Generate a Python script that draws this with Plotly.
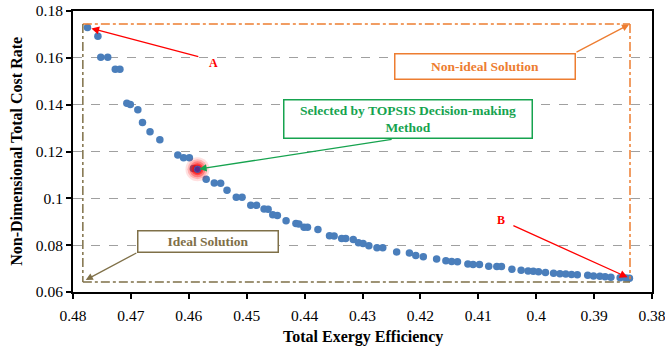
import plotly.graph_objects as go

# Pareto front data (Total Exergy Efficiency, Non-dimensional total cost rate)
exergy_eff = [0.4775, 0.4757, 0.4752, 0.4740, 0.4727, 0.4719, 0.4707, 0.4701, 0.4688, 0.4680,
              0.4667, 0.4650, 0.4619, 0.4609, 0.4599, 0.4592, 0.4570, 0.4556, 0.4545, 0.4534,
              0.4518, 0.4508, 0.4493, 0.4483, 0.4470, 0.4463, 0.4455, 0.4447, 0.4432, 0.4415,
              0.4410, 0.4401, 0.4395, 0.4377, 0.4357, 0.4349, 0.4336, 0.4329, 0.4316, 0.4307,
              0.4299, 0.4289, 0.4275, 0.4265, 0.4241, 0.4219, 0.4208, 0.4195, 0.4172, 0.4156,
              0.4146, 0.4136, 0.4118, 0.4109, 0.4098, 0.4082, 0.4068, 0.4060, 0.4042, 0.4026,
              0.4014, 0.4005, 0.3996, 0.3984, 0.3970, 0.3959, 0.3949, 0.3939, 0.3929, 0.3911,
              0.3901, 0.3890, 0.3881, 0.3871, 0.3855, 0.3845, 0.3839]
cost_rate = [0.1730, 0.1692, 0.1603, 0.1603, 0.1551, 0.1551, 0.1406, 0.1401, 0.1378, 0.1324,
             0.1284, 0.1250, 0.1185, 0.1173, 0.1173, 0.1127, 0.1082, 0.1065, 0.1064, 0.1034,
             0.1005, 0.1005, 0.0970, 0.0970, 0.0954, 0.0953, 0.0930, 0.0927, 0.0904, 0.0893,
             0.0890, 0.0877, 0.0876, 0.0867, 0.0840, 0.0839, 0.0829, 0.0829, 0.0824, 0.0810,
             0.0807, 0.0797, 0.0789, 0.0789, 0.0771, 0.0767, 0.0756, 0.0751, 0.0741, 0.0733,
             0.0730, 0.0729, 0.0720, 0.0717, 0.0717, 0.0710, 0.0709, 0.0709, 0.0697, 0.0693,
             0.0690, 0.0689, 0.0686, 0.0683, 0.0680, 0.0678, 0.0677, 0.0675, 0.0674, 0.0672,
             0.0668, 0.0667, 0.0665, 0.0663, 0.0661, 0.0660, 0.0659]

# TOPSIS selected point
topsis_x = [0.4585]
topsis_y = [0.1124]

# Ideal / non-ideal solution box corners
ideal_x, ideal_y = 0.4783, 0.0643
nonideal_x, nonideal_y = 0.3838, 0.1744

x_ticks = [0.48, 0.47, 0.46, 0.45, 0.44, 0.43, 0.42, 0.41, 0.40, 0.39, 0.38]
x_tick_labels = ["0.48", "0.47", "0.46", "0.45", "0.44", "0.43", "0.42", "0.41", "0.4", "0.39", "0.38"]
y_ticks = [0.06, 0.08, 0.10, 0.12, 0.14, 0.16, 0.18]
y_tick_labels = ["0.06", "0.08", "0.1", "0.12", "0.14", "0.16", "0.18"]

FONT = "Liberation Serif, Times New Roman, serif"
BLUE = "#4a7ebb"
ORANGE = "#ed7d31"
OLIVE = "#7f7048"
GREEN = "#16a34f"
RED = "#ff0000"

fig = go.Figure()

# Ideal/non-ideal dash-dot rectangle
fig.add_shape(type="line", x0=ideal_x, y0=nonideal_y, x1=nonideal_x, y1=nonideal_y,
              line=dict(color=ORANGE, width=1.5, dash="dashdot"))
fig.add_shape(type="line", x0=nonideal_x, y0=nonideal_y, x1=nonideal_x, y1=cost_rate[-1] - 0.0005,
              line=dict(color=ORANGE, width=1.5, dash="dashdot"))
fig.add_shape(type="line", x0=ideal_x, y0=nonideal_y, x1=ideal_x, y1=ideal_y,
              line=dict(color=OLIVE, width=1.5, dash="dashdot"))
fig.add_shape(type="line", x0=ideal_x, y0=ideal_y, x1=nonideal_x, y1=ideal_y,
              line=dict(color=OLIVE, width=1.5, dash="dashdot"))

fig.add_trace(go.Scatter(x=exergy_eff, y=cost_rate, mode="markers",
                         marker=dict(size=7.5, color=BLUE, line=dict(width=0)),
                         showlegend=False, hoverinfo="x+y"))

# soft red glow around selected point (stacked translucent discs)
for s, a in [(24, 0.12), (20, 0.2), (16, 0.3), (12, 0.45), (9, 0.6)]:
    fig.add_trace(go.Scatter(x=topsis_x, y=topsis_y, mode="markers",
                             marker=dict(size=s, color=f"rgba(255,0,0,{a})", line=dict(width=0)),
                             showlegend=False, hoverinfo="skip"))
fig.add_trace(go.Scatter(x=topsis_x, y=topsis_y, mode="markers",
                         marker=dict(size=6.5, color="#5a2a8c", line=dict(width=1, color="#4a5aa8")),
                         showlegend=False, hoverinfo="x+y"))

ann = []
# A
ann.append(dict(x=exergy_eff[0], y=cost_rate[0], ax=0.4581, ay=0.1604, axref="x", ayref="y",
                xref="x", yref="y", text="", showarrow=True, arrowhead=2, arrowsize=1.2,
                arrowwidth=1.3, arrowcolor=RED, standoff=4))
ann.append(dict(x=0.4558, y=0.1578, xref="x", yref="y", text="<b>A</b>", showarrow=False,
                font=dict(family=FONT, size=12, color=RED)))
# B
ann.append(dict(x=exergy_eff[-1], y=cost_rate[-1], ax=0.4042, ay=0.0886, axref="x", ayref="y",
                xref="x", yref="y", text="", showarrow=True, arrowhead=2, arrowsize=1.2,
                arrowwidth=1.3, arrowcolor=RED, standoff=2))
ann.append(dict(x=0.4061, y=0.0907, xref="x", yref="y", text="<b>B</b>", showarrow=False,
                font=dict(family=FONT, size=12, color=RED)))
# Non-ideal
ann.append(dict(x=nonideal_x, y=nonideal_y, ax=0.3933, ay=0.1621, axref="x", ayref="y",
                xref="x", yref="y", text="", showarrow=True, arrowhead=2, arrowsize=1.1,
                arrowwidth=1.3, arrowcolor=ORANGE, standoff=1))
ann.append(dict(x=0.4089, y=0.1565, xref="x", yref="y", text="<b>Non-ideal Solution</b>",
                showarrow=False, font=dict(family=FONT, size=13.5, color=ORANGE),
                bordercolor=ORANGE, borderwidth=1.5, bgcolor="white", width=175, height=20,
                borderpad=2))
# Ideal
ann.append(dict(x=0.4778, y=0.0651, ax=0.4688, ay=0.0770, axref="x", ayref="y",
                xref="x", yref="y", text="", showarrow=True, arrowhead=2, arrowsize=1.1,
                arrowwidth=1.3, arrowcolor=OLIVE, standoff=0))
ann.append(dict(x=0.4566, y=0.0817, xref="x", yref="y", text="<b>Ideal Solution</b>",
                showarrow=False, font=dict(family=FONT, size=13.5, color=OLIVE),
                bordercolor=OLIVE, borderwidth=1.5, bgcolor="white", width=135, height=16,
                borderpad=2))
# TOPSIS
ann.append(dict(x=topsis_x[0], y=topsis_y[0], ax=0.4247, ay=0.1253, axref="x", ayref="y",
                xref="x", yref="y", text="", showarrow=True, arrowhead=2, arrowsize=1.1,
                arrowwidth=1.3, arrowcolor=GREEN, standoff=2))
ann.append(dict(x=0.4221, y=0.1337, xref="x", yref="y",
                text="<b>Selected by TOPSIS Decision-making<br>Method</b>",
                showarrow=False, font=dict(family=FONT, size=13.5, color=GREEN),
                bordercolor=GREEN, borderwidth=1.5, bgcolor="white", width=243, height=33,
                borderpad=2))
# Axis titles
ann.append(dict(x=0.5, y=-0.16, xref="paper", yref="paper", xanchor="center", yanchor="middle",
                text="<b>Total Exergy Efficiency</b>",
                showarrow=False, font=dict(family=FONT, size=16, color="black")))
ann.append(dict(x=-0.098, y=0.5, xref="paper", yref="paper", xanchor="center", yanchor="middle",
                textangle=-90, text="<b>Non-Dimensional Total Cost Rate</b>",
                showarrow=False, font=dict(family=FONT, size=16, color="black")))

fig.update_layout(
    width=665, height=350,
    margin=dict(l=73, r=13, t=11, b=58),
    plot_bgcolor="white", paper_bgcolor="white",
    font=dict(family=FONT, size=15.5, color="black"),
    annotations=ann,
    showlegend=False,
)
fig.update_xaxes(range=[0.48, 0.38], tickvals=x_ticks, ticktext=x_tick_labels,
                 automargin=False, ticklabeloverflow="allow",
                 showgrid=False, zeroline=False, showline=True, mirror=True,
                 linecolor="black", linewidth=2, ticks="outside", ticklen=5,
                 tickcolor="black", tickwidth=1.5, ticklabelstandoff=3)
fig.update_yaxes(range=[0.06, 0.18], tickvals=y_ticks, ticktext=y_tick_labels,
                 automargin=False,
                 showgrid=True, gridcolor="#a0a0a0", griddash="dash", gridwidth=1.2,
                 zeroline=False, showline=True, mirror=True,
                 linecolor="black", linewidth=2, ticks="outside", ticklen=5,
                 tickcolor="black", tickwidth=1.5)

fig.write_html("out.html")
